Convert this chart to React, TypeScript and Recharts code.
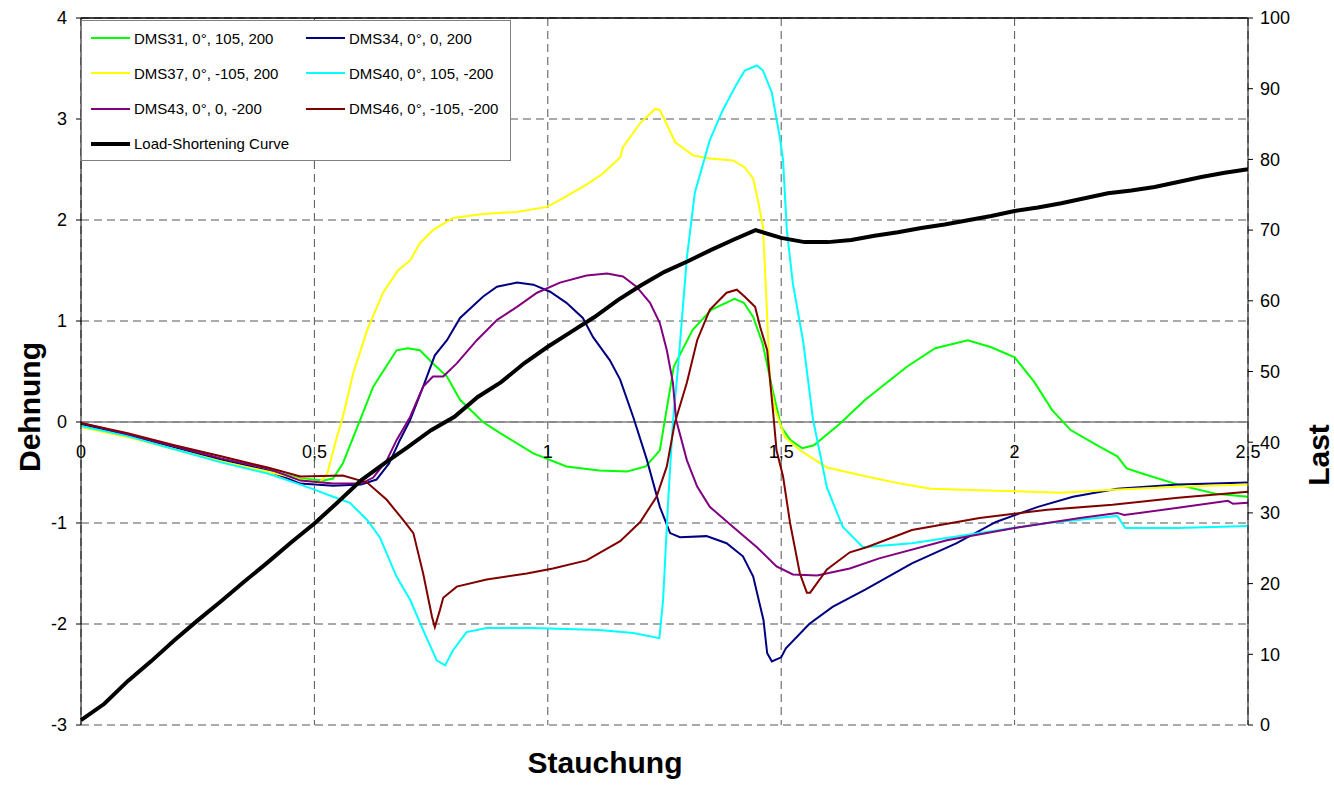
// Dehnung / Last über Stauchung – DMS-Messstellen + Lastverkürzungskurve
import React from 'react';
import { LineChart, Line, XAxis, YAxis, CartesianGrid, ReferenceLine } from 'recharts';

// ─── data (x = Stauchung, y = Dehnung bzw. Last) ─────────────────────────────
const stauchungTicks = [0, 0.5, 1, 1.5, 2, 2.5];
const dehnungTicks = [-3, -2, -1, 0, 1, 2, 3, 4];
const lastTicks = [0, 10, 20, 30, 40, 50, 60, 70, 80, 90, 100];

const seriesNames = [
  'DMS31, 0°, 105, 200',
  'DMS34, 0°, 0, 200',
  'DMS37, 0°, -105, 200',
  'DMS40, 0°, 105, -200',
  'DMS43, 0°, 0, -200',
  'DMS46, 0°, -105, -200',
  'Load-Shortening Curve',
];
const seriesColors = ['#00ff00', '#000080', '#ffff00', '#00ffff', '#800080', '#800000', '#000000'];

const dms31 = [
  [0, -0.03], [0.1, -0.14], [0.2, -0.26], [0.3, -0.38], [0.4, -0.48], [0.47, -0.56], [0.52, -0.58],
  [0.54, -0.56], [0.561, -0.41], [0.598, 0.02], [0.626, 0.35], [0.676, 0.71], [0.7, 0.73], [0.726, 0.71],
  [0.754, 0.58], [0.784, 0.45], [0.812, 0.22], [0.861, 0.0], [0.898, -0.11], [0.969, -0.31], [1.04, -0.44],
  [1.11, -0.48], [1.17, -0.49], [1.21, -0.44], [1.24, -0.28], [1.27, 0.55], [1.31, 0.91], [1.35, 1.11],
  [1.4, 1.22], [1.42, 1.18], [1.44, 1.04], [1.46, 0.78], [1.48, 0.35], [1.5, -0.05], [1.52, -0.18],
  [1.545, -0.26], [1.57, -0.23], [1.625, -0.02], [1.68, 0.22], [1.77, 0.55], [1.83, 0.73], [1.9, 0.81],
  [1.95, 0.74], [2.0, 0.64], [2.04, 0.41], [2.05, 0.34], [2.08, 0.12], [2.12, -0.08], [2.18, -0.24],
  [2.22, -0.34], [2.24, -0.46], [2.28, -0.52], [2.35, -0.62], [2.43, -0.71], [2.5, -0.74],
];

const dms34 = [
  [0, -0.02], [0.1, -0.13], [0.2, -0.25], [0.3, -0.37], [0.4, -0.48], [0.47, -0.61], [0.54, -0.63],
  [0.6, -0.62], [0.633, -0.57], [0.66, -0.41], [0.683, -0.18], [0.705, 0.02], [0.733, 0.35], [0.758, 0.66],
  [0.784, 0.81], [0.812, 1.03], [0.861, 1.24], [0.891, 1.34], [0.934, 1.38], [0.969, 1.36], [1.005, 1.29],
  [1.04, 1.18], [1.075, 1.03], [1.097, 0.84], [1.133, 0.61], [1.155, 0.42], [1.183, 0.05], [1.212, -0.37],
  [1.24, -0.84], [1.262, -1.1], [1.283, -1.14], [1.34, -1.13], [1.383, -1.2], [1.418, -1.33], [1.44, -1.53],
  [1.462, -1.96], [1.47, -2.29], [1.48, -2.37], [1.5, -2.33], [1.51, -2.24], [1.56, -2.0], [1.61, -1.83],
  [1.68, -1.66], [1.78, -1.4], [1.876, -1.2], [1.96, -0.99], [2.05, -0.84], [2.125, -0.74], [2.22, -0.66],
  [2.35, -0.62], [2.5, -0.6],
];

const dms37 = [
  [0, -0.05], [0.1, -0.15], [0.2, -0.27], [0.3, -0.39], [0.4, -0.49], [0.47, -0.57], [0.51, -0.6],
  [0.527, -0.52], [0.548, -0.15], [0.561, 0.05], [0.583, 0.48], [0.613, 0.91], [0.647, 1.28], [0.679, 1.5],
  [0.705, 1.6], [0.726, 1.77], [0.754, 1.9], [0.797, 2.02], [0.861, 2.06], [0.934, 2.08], [0.998, 2.13],
  [1.026, 2.2], [1.083, 2.35], [1.118, 2.46], [1.155, 2.62], [1.161, 2.72], [1.198, 2.96], [1.23, 3.1],
  [1.24, 3.09], [1.273, 2.77], [1.311, 2.64], [1.347, 2.61], [1.397, 2.59], [1.422, 2.52], [1.44, 2.41],
  [1.45, 2.2], [1.461, 1.93], [1.47, 1.04], [1.476, 0.39], [1.487, 0.12], [1.497, -0.01], [1.508, -0.15],
  [1.54, -0.28], [1.598, -0.45], [1.683, -0.54], [1.755, -0.61], [1.82, -0.66], [1.96, -0.68],
  [2.1, -0.7], [2.21, -0.67], [2.35, -0.64], [2.5, -0.62],
];

const dms40 = [
  [0, -0.04], [0.1, -0.14], [0.2, -0.27], [0.3, -0.4], [0.4, -0.51], [0.47, -0.62], [0.5, -0.67],
  [0.54, -0.74], [0.576, -0.8], [0.613, -0.97], [0.64, -1.14], [0.676, -1.53], [0.705, -1.76], [0.733, -2.06],
  [0.762, -2.36], [0.78, -2.41], [0.797, -2.26], [0.826, -2.08], [0.869, -2.04], [0.969, -2.04], [1.11, -2.06],
  [1.183, -2.09], [1.239, -2.14], [1.247, -1.76], [1.258, -0.77], [1.268, 0.0], [1.279, 0.54], [1.298, 1.63],
  [1.315, 2.27], [1.347, 2.79], [1.375, 3.09], [1.405, 3.35], [1.422, 3.48], [1.448, 3.53], [1.461, 3.48],
  [1.48, 3.26], [1.497, 2.82], [1.504, 2.59], [1.512, 1.9], [1.525, 1.37], [1.547, 0.8], [1.568, 0.03],
  [1.598, -0.65], [1.632, -1.04], [1.675, -1.24], [1.78, -1.2], [1.925, -1.1], [2.07, -1.0], [2.22, -0.93],
  [2.237, -1.05], [2.35, -1.05], [2.5, -1.03],
];

const dms43 = [
  [0, -0.01], [0.1, -0.12], [0.2, -0.24], [0.3, -0.36], [0.4, -0.46], [0.47, -0.58], [0.54, -0.61],
  [0.6, -0.61], [0.626, -0.55], [0.655, -0.38], [0.676, -0.18], [0.705, 0.05], [0.733, 0.35], [0.754, 0.45],
  [0.776, 0.45], [0.805, 0.58], [0.848, 0.81], [0.891, 1.01], [0.934, 1.14], [0.977, 1.28], [1.026, 1.38],
  [1.083, 1.45], [1.127, 1.47], [1.161, 1.44], [1.19, 1.34], [1.219, 1.18], [1.24, 0.98], [1.255, 0.71],
  [1.268, 0.39], [1.275, 0.02], [1.298, -0.38], [1.32, -0.64], [1.347, -0.84], [1.397, -1.04], [1.448, -1.24],
  [1.49, -1.43], [1.525, -1.51], [1.577, -1.52], [1.647, -1.45], [1.71, -1.35], [1.855, -1.17], [2.0, -1.05],
  [2.14, -0.95], [2.22, -0.9], [2.235, -0.92], [2.35, -0.85], [2.457, -0.78], [2.468, -0.81], [2.5, -0.8],
];

const dms46 = [
  [0, -0.01], [0.1, -0.11], [0.2, -0.23], [0.3, -0.34], [0.4, -0.45], [0.47, -0.54], [0.561, -0.53],
  [0.613, -0.6], [0.655, -0.77], [0.69, -0.97], [0.712, -1.1], [0.733, -1.5], [0.752, -1.93], [0.758, -2.03],
  [0.769, -1.86], [0.776, -1.74], [0.805, -1.63], [0.869, -1.56], [0.955, -1.5], [1.011, -1.45], [1.083, -1.37],
  [1.155, -1.18], [1.198, -0.99], [1.233, -0.74], [1.255, -0.44], [1.272, -0.01], [1.298, 0.39], [1.32, 0.81],
  [1.347, 1.11], [1.383, 1.28], [1.405, 1.31], [1.422, 1.24], [1.444, 1.14], [1.455, 0.94], [1.47, 0.71],
  [1.483, 0.08], [1.49, -0.28], [1.504, -0.54], [1.519, -1.0], [1.54, -1.5], [1.555, -1.69], [1.562, -1.69],
  [1.598, -1.46], [1.647, -1.29], [1.683, -1.24], [1.78, -1.07], [1.925, -0.95], [2.07, -0.87], [2.21, -0.82],
  [2.35, -0.75], [2.5, -0.69],
];

// Last (rechte Achse)
const loadCurve = [
  [0, 0.7], [0.05, 3.0], [0.1, 6.2], [0.15, 9.0], [0.2, 12.0], [0.25, 14.8], [0.3, 17.5], [0.35, 20.3],
  [0.4, 23.0], [0.45, 25.8], [0.5, 28.5], [0.55, 31.5], [0.6, 34.6], [0.65, 37.0], [0.7, 39.3], [0.75, 41.7],
  [0.8, 43.6], [0.85, 46.4], [0.9, 48.5], [0.95, 51.2], [1.0, 53.5], [1.05, 55.6], [1.1, 57.7], [1.15, 60.1],
  [1.2, 62.2], [1.25, 64.1], [1.3, 65.6], [1.35, 67.2], [1.4, 68.7], [1.445, 70.0], [1.5, 68.9], [1.55, 68.3],
  [1.6, 68.3], [1.65, 68.6], [1.7, 69.2], [1.75, 69.7], [1.8, 70.3], [1.85, 70.8], [1.9, 71.4], [1.95, 72.0],
  [2.0, 72.7], [2.05, 73.2], [2.1, 73.8], [2.15, 74.5], [2.2, 75.2], [2.25, 75.6], [2.3, 76.1], [2.35, 76.8],
  [2.4, 77.5], [2.45, 78.1], [2.5, 78.6],
];

const dmsSeries = [dms31, dms34, dms37, dms40, dms43, dms46];

// ─── layout ──────────────────────────────────────────────────────────────────
const WIDTH = 1334;
const HEIGHT = 785;
const PLOT_TOP = 18;
const LEFT_AXIS_W = 81;
const RIGHT_AXIS_W = 86;
const X_AXIS_H = 60;
const PLOT_H = HEIGHT - PLOT_TOP - X_AXIS_H;
const ZERO_Y = PLOT_TOP + (PLOT_H * 4) / 7;
const FONT = "'Liberation Sans', Arial, sans-serif";

const toPoints = (arr: number[][]) => arr.map(([x, y]) => ({ x, y }));
const fmt = (v: number) => String(v).replace('.', ',');

const StauchungTick = (props: any) => {
  const { x, payload } = props;
  return (
    <text x={x} y={ZERO_Y + 36} textAnchor="middle" fontSize={18} fontFamily={FONT} fill="#000">
      {fmt(payload.value)}
    </text>
  );
};

const XTitle = () => (
  <text x={605} y={773} textAnchor="middle" fontSize={30} fontWeight="bold" fontFamily={FONT} fill="#000">
    Stauchung
  </text>
);

const LeftTitle = () => (
  <text
    x={40}
    y={407}
    transform="rotate(-90 40 407)"
    textAnchor="middle"
    fontSize={30}
    fontWeight="bold"
    fontFamily={FONT}
    fill="#000"
  >
    Dehnung
  </text>
);

const RightTitle = () => (
  <text
    x={1329}
    y={455}
    transform="rotate(-90 1329 455)"
    textAnchor="middle"
    fontSize={30}
    fontWeight="bold"
    fontFamily={FONT}
    fill="#000"
  >
    Last
  </text>
);

const ChartLegend: React.FC = () => (
  <div
    style={{
      position: 'absolute',
      left: LEFT_AXIS_W,
      top: 20,
      width: 430,
      height: 141,
      boxSizing: 'border-box',
      border: '1px solid #808080',
      background: '#fff',
      fontFamily: FONT,
      fontSize: 15,
      color: '#000',
    }}
  >
    {seriesNames.map((name, i) => {
      const row = Math.floor(i / 2);
      const col = i % 2;
      const isLoad = i === seriesNames.length - 1;
      return (
        <div
          key={name}
          style={{
            position: 'absolute',
            left: col === 0 ? 9 : 224,
            top: 17 + row * 35.3 - 10,
            height: 20,
            display: 'flex',
            alignItems: 'center',
            whiteSpace: 'nowrap',
          }}
        >
          <span
            style={{
              display: 'inline-block',
              width: 39,
              height: isLoad ? 4 : 2,
              background: seriesColors[i],
              marginRight: 4,
            }}
          />
          {name}
        </div>
      );
    })}
  </div>
);

const App: React.FC = () => (
  <div style={{ position: 'absolute', left: 0, top: 0, width: WIDTH, height: HEIGHT, background: '#fff' }}>
    <LineChart width={WIDTH} height={HEIGHT} margin={{ top: PLOT_TOP, right: 0, bottom: 0, left: 0 }}>
      <CartesianGrid yAxisId="left" stroke="#555" strokeDasharray="8 5" />
      <XAxis
        type="number"
        dataKey="x"
        domain={[0, 2.5]}
        ticks={stauchungTicks}
        axisLine={false}
        tickLine={false}
        tick={<StauchungTick />}
        height={X_AXIS_H}
        label={<XTitle />}
      />
      <YAxis
        yAxisId="left"
        type="number"
        domain={[-3, 4]}
        ticks={dehnungTicks}
        width={LEFT_AXIS_W}
        axisLine={{ stroke: '#000' }}
        tickLine={{ stroke: '#000' }}
        tickSize={5}
        tickMargin={9}
        tick={{ fill: '#000', fontSize: 18, fontFamily: FONT }}
        label={<LeftTitle />}
      />
      <YAxis
        yAxisId="right"
        orientation="right"
        type="number"
        domain={[0, 100]}
        ticks={lastTicks}
        width={RIGHT_AXIS_W}
        axisLine={{ stroke: '#000' }}
        tickLine={{ stroke: '#000' }}
        tickSize={5}
        tickMargin={7}
        tick={{ fill: '#000', fontSize: 18, fontFamily: FONT }}
        label={<RightTitle />}
      />
      <ReferenceLine yAxisId="left" y={0} stroke="#808080" strokeWidth={1.5} />
      <ReferenceLine yAxisId="left" y={4} stroke="#000" strokeWidth={1.5} />
      {dmsSeries.map((s, i) => (
        <Line
          key={seriesNames[i]}
          yAxisId="left"
          data={toPoints(s)}
          dataKey="y"
          name={seriesNames[i]}
          type="linear"
          stroke={seriesColors[i]}
          strokeWidth={2}
          dot={false}
          isAnimationActive={false}
        />
      ))}
      <Line
        yAxisId="right"
        data={toPoints(loadCurve)}
        dataKey="y"
        name={seriesNames[6]}
        type="linear"
        stroke={seriesColors[6]}
        strokeWidth={4}
        dot={false}
        isAnimationActive={false}
      />
    </LineChart>
    <ChartLegend />
  </div>
);

export default App;
